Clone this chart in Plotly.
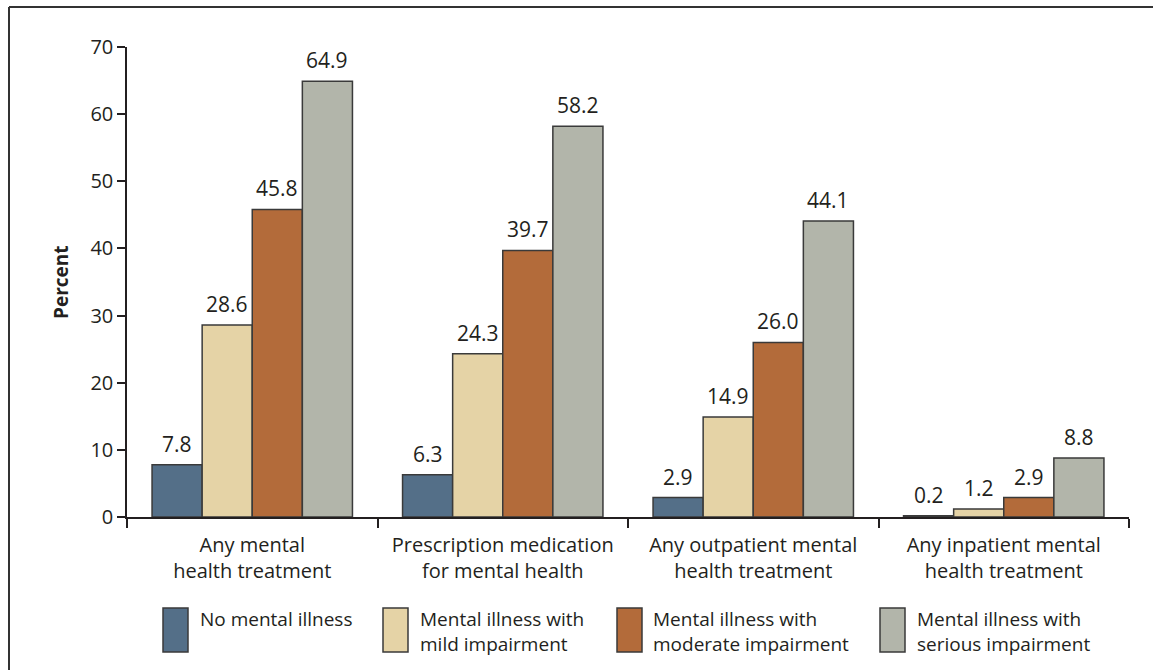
import plotly.graph_objects as go

categories = ["Any mental<br>health treatment", "Prescription medication<br>for mental health",
              "Any outpatient mental<br>health treatment", "Any inpatient mental<br>health treatment"]
series_names = ["No mental illness", "Mental illness with<br>mild impairment",
                "Mental illness with<br>moderate impairment", "Mental illness with<br>serious impairment"]
no_illness = [7.8, 6.3, 2.9, 0.2]
mild = [28.6, 24.3, 14.9, 1.2]
moderate = [45.8, 39.7, 26.0, 2.9]
serious = [64.9, 58.2, 44.1, 8.8]
y_ticks = [0, 10, 20, 30, 40, 50, 60, 70]

colors = ["#546f88", "#e5d3a6", "#b36b3a", "#b2b5aa"]
series_vals = [no_illness, mild, moderate, serious]
FONT = "Open Sans"
TXT = "#231f20"

W, H = 1153, 670
L, R, T, B = 127, 24, 47, 153
pw, ph = W - L - R, H - T - B

def px(x):
    return (x - L) / pw

def py(y):
    return (H - B - y) / ph

fig = go.Figure()
for name, vals, c in zip(series_names, series_vals, colors):
    fig.add_trace(go.Bar(x=categories, y=vals, name=name, marker_color=c,
                         marker_line_color="#3a3a3a", marker_line_width=1.5,
                         showlegend=False))

annotations = []
n = len(series_vals)
for i, vals in enumerate(series_vals):
    for j, v in enumerate(vals):
        annotations.append(dict(x=j + (i - (n - 1) / 2) * 0.2, y=v, xref="x", yref="y",
                                text=f"{v:.1f}", showarrow=False, yanchor="bottom",
                                yshift=5, font=dict(family=FONT, size=21, color=TXT)))

# y-axis title
annotations.append(dict(x=px(46), y=0.5, xref="paper", yref="paper", text="<b>Percent</b>",
                        textangle=-90, showarrow=False, font=dict(family=FONT, size=19, color=TXT)))

# custom legend
sq_left = [163, 383, 617, 880]
txt_left = [200, 420, 653, 917]
shapes = []
for k in range(n):
    shapes.append(dict(type="rect", xref="paper", yref="paper", x0=px(sq_left[k]), x1=px(sq_left[k] + 25),
                       y0=py(652), y1=py(608), fillcolor=colors[k], line=dict(color="#3a3a3a", width=1.5)))
    annotations.append(dict(x=px(txt_left[k] - 2), y=py(604), xref="paper", yref="paper",
                            text=series_names[k], showarrow=False, xanchor="left", yanchor="top",
                            align="left", font=dict(family=FONT, size=19, color=TXT)))

# frame lines
shapes.append(dict(type="line", xref="paper", yref="paper", x0=px(9), x1=px(W), y0=py(7), y1=py(7),
                   line=dict(color="#333333", width=2)))
shapes.append(dict(type="line", xref="paper", yref="paper", x0=px(9), x1=px(9), y0=py(7), y1=py(H),
                   line=dict(color="#333333", width=2)))

fig.update_layout(
    width=W, height=H, margin=dict(l=L, r=R, t=T, b=B, autoexpand=False),
    paper_bgcolor="white", plot_bgcolor="white",
    barmode="group", bargap=0.2, bargroupgap=0,
    font=dict(family=FONT, color=TXT),
    annotations=annotations, shapes=shapes,
    xaxis=dict(showline=True, linecolor="#231f20", linewidth=1.5, ticks="outside", tickson="boundaries",
               ticklen=9, tickcolor="#231f20", tickwidth=1.5, showgrid=False, ticklabelstandoff=9,
               tickfont=dict(family=FONT, size=20, color=TXT)),
    yaxis=dict(range=[0, 70], tickvals=y_ticks, showline=True, linecolor="#231f20", linewidth=1.5,
               ticks="outside", ticklen=8, tickcolor="#231f20", tickwidth=1.5, showgrid=False,
               zeroline=False, tickfont=dict(family=FONT, size=20, color=TXT)),
)

fig.write_html("out.html")
